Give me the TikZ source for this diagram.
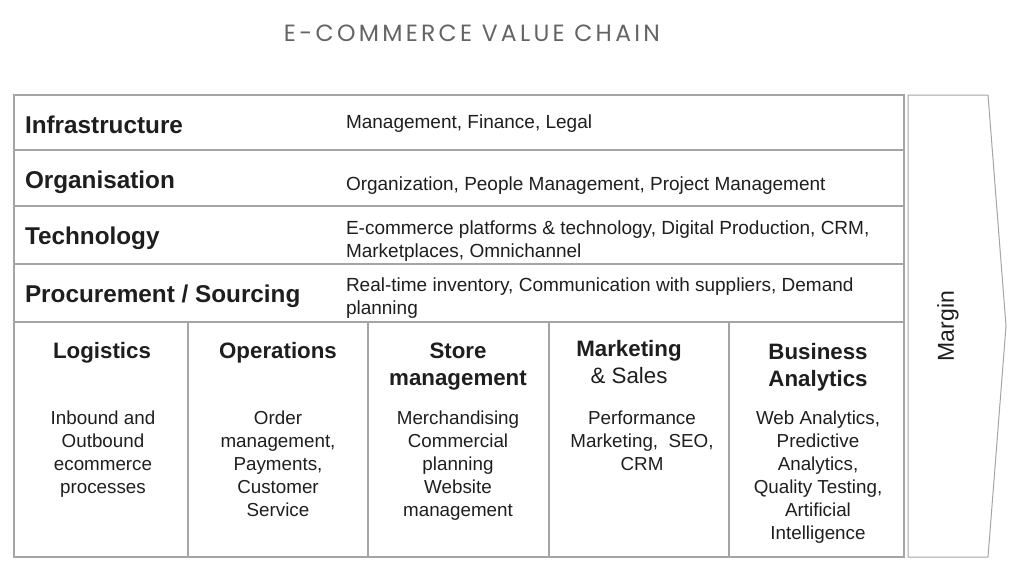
\documentclass[tikz,border=0pt]{standalone}
\usepackage{fontspec}
\setmainfont{Liberation Sans}
\newfontfamily\titlefont{Poppins}[LetterSpace=14]
\definecolor{linegray}{RGB}{165,165,165}
\definecolor{txt}{RGB}{30,30,30}
\definecolor{titlegray}{RGB}{100,100,100}
\begin{document}
\begin{tikzpicture}[x=1pt,y=-1pt,
  every node/.style={inner sep=0pt,outer sep=0pt,text=txt},
  grid/.style={draw=linegray,line width=1.3pt},
  rowhead/.style={anchor=base west,font=\fontsize{24.3}{28}\selectfont\bfseries},
  rowtext/.style={anchor=north west,align=left,font=\fontsize{19}{22.5}\selectfont},
  colhead/.style={anchor=north,align=center,font=\fontsize{22.3}{27}\selectfont\bfseries},
  coltext/.style={anchor=north,align=center,font=\fontsize{18.8}{23}\selectfont}]
\useasboundingbox (0,0) rectangle (1024,571);
% title
\node[anchor=base,text=titlegray,font=\titlefont\fontsize{23.5}{26}\selectfont] (title) at (472,41) {E-COMMERCE VALUE CHAIN};
% table frame
\draw[grid] (14,95) rectangle (904,557);
\foreach \yy in {150,206,264,322} \draw[grid] (14,\yy) -- (904,\yy);
\foreach \xx in {188,368,549,729} \draw[grid] (\xx,322) -- (\xx,557);
% margin arrow
\draw[grid,line width=1pt] (908,95) -- (988,95) -- (1006,326) -- (988,557) -- (908,557) -- cycle;
\node[rotate=90,font=\fontsize{23}{26}\selectfont] (margin) at (948,326) {Margin};
% rows
\node[rowhead] (infra) at (25,133) {Infrastructure};
\node[rowhead] (org) at (25,188) {Organisation};
\node[rowhead] (tech) at (25,244) {Technology};
\node[rowhead] (proc) at (25,302) {Procurement / Sourcing};
\node[rowtext] (infraT) at (346,115) {Management, Finance, Legal};
\node[rowtext] (orgT) at (346,177) {Organization, People Management, Project Management};
\node[rowtext] (techT) at (346,221) {E-commerce platforms \& technology, Digital Production, CRM,\\Marketplaces, Omnichannel};
\node[rowtext] (procT) at (346,278) {Real-time inventory, Communication with suppliers, Demand\\planning};
% columns
\node[colhead] (logH) at (102,342) {Logistics};
\node[colhead] (opsH) at (278,342) {Operations};
\node[colhead] (storeH) at (458,343) {Store\\management};
\node[colhead] (mktH) at (629,340) {Marketing\\\mdseries \& Sales};
\node[colhead] (baH) at (818,343) {Business\\Analytics};
\node[coltext] (logT) at (103,411) {Inbound and\\Outbound\\ecommerce\\processes};
\node[coltext] (opsT) at (278,411) {Order\\management,\\Payments,\\Customer\\Service};
\node[coltext] (storeT) at (458,411) {Merchandising\\Commercial\\planning\\Website\\management};
\node[coltext] (mktT) at (642,411) {Performance\\Marketing,\ \ SEO,\\CRM};
\node[coltext] (baT) at (818,411) {Web Analytics,\\Predictive\\Analytics,\\Quality Testing,\\Artificial\\Intelligence};
\end{tikzpicture}
\end{document}
